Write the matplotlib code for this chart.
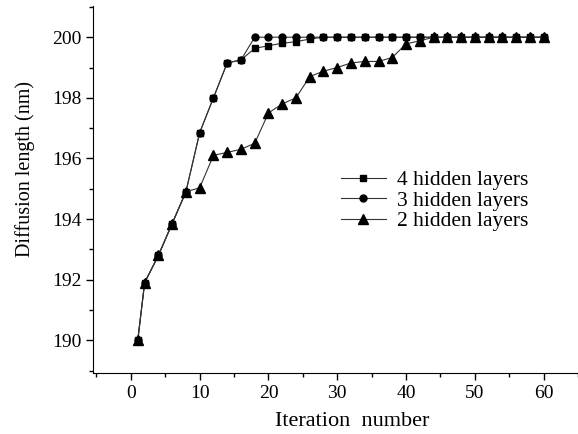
import matplotlib
matplotlib.use("Agg")
import matplotlib.pyplot as plt
from matplotlib.ticker import MultipleLocator

# iteration numbers shared by all three series
iterations = [1, 2] + list(range(4, 61, 2))

layers_4 = [190.0, 191.9, 192.8, 193.85, 194.9, 196.85, 198.0, 199.15, 199.25,
            199.63, 199.72, 199.8, 199.85, 199.94] + [200.0] * 17
layers_3 = [190.0, 191.9, 192.8, 193.85, 194.9, 196.85, 198.0, 199.15, 199.25] + [200.0] * 22
layers_2 = [190.0, 191.9, 192.8, 193.85, 194.9, 195.03, 196.1, 196.2, 196.3, 196.5,
            197.5, 197.8, 198.0, 198.7, 198.88, 199.0, 199.15, 199.2, 199.2, 199.33,
            199.78, 199.88] + [200.0] * 9

plt.rcParams['font.family'] = ['Liberation Serif', 'DejaVu Serif']

fig = plt.figure(figsize=(5.78, 4.34), dpi=100)
ax = fig.add_axes([0.161, 0.1406, 0.839, 0.8456])

line_kw = dict(color='#333333', lw=0.8, markerfacecolor='black', markeredgecolor='black')
ax.plot(iterations, layers_4, marker='s', ms=4, label='4 hidden layers', **line_kw)
ax.plot(iterations, layers_3, marker='o', ms=5, label='3 hidden layers', **line_kw)
ax.plot(iterations, layers_2, marker='^', ms=7.5, label='2 hidden layers', **line_kw)

ax.set_xlim(-5.5, 65)
ax.set_ylim(188.92, 201.03)
ax.xaxis.set_major_locator(MultipleLocator(10))
ax.xaxis.set_minor_locator(MultipleLocator(5))
ax.yaxis.set_major_locator(MultipleLocator(2))
ax.yaxis.set_minor_locator(MultipleLocator(1))
ax.tick_params(which='major', direction='out', length=5, width=1, labelsize=14)
ax.tick_params(which='minor', direction='out', length=3, width=1)
ax.spines['top'].set_visible(False)
ax.spines['right'].set_visible(False)

ax.set_xlabel('Iteration  number', fontsize=16, labelpad=7, x=0.534)
ax.set_ylabel('Diffusion length (nm)', fontsize=14.5, labelpad=12, y=0.557)

ax.legend(loc='center left', bbox_to_anchor=(0.511, 0.469), frameon=False,
          fontsize=15.5, handlelength=2.1, labelspacing=0.02, handletextpad=0.5,
          borderpad=0, borderaxespad=0)

fig.savefig('out.png')
